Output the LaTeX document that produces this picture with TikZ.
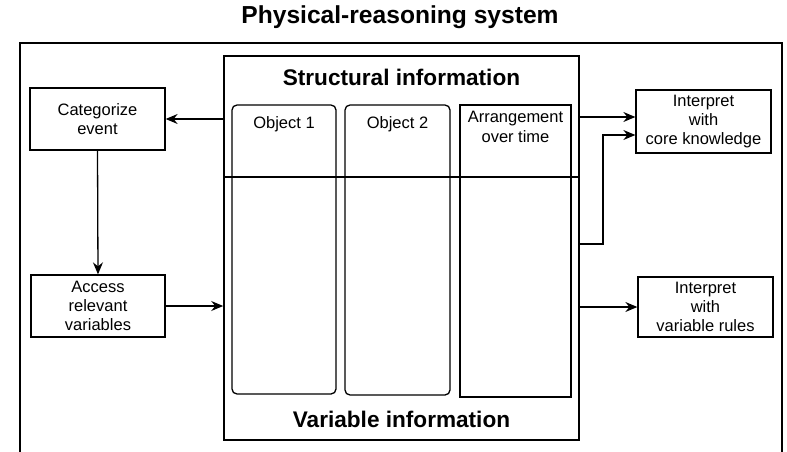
\documentclass[tikz,border=0pt]{standalone}
\usepackage{fontspec}
\setmainfont{Liberation Sans}
\usetikzlibrary{arrows.meta}
\begin{document}
\begin{tikzpicture}[x=1pt,y=-1pt,
  box/.style={draw,line width=1.3pt,inner sep=0pt,align=center,font=\fontsize{16.5}{19}\selectfont},
  col/.style={draw,line width=1.3pt,inner sep=0pt},
  coltext/.style={anchor=north,align=center,inner sep=0pt,font=\fontsize{16.5}{19.5}\selectfont},
  head/.style={font=\bfseries\fontsize{22.6}{26}\selectfont,inner sep=0pt},
  arr/.style={line width=1.3pt,-{Stealth[length=12pt,width=10pt,inset=4pt]}}]
\useasboundingbox (0,0) rectangle (787,452);
% title
\node[font=\bfseries\fontsize{24.6}{28}\selectfont,inner sep=0pt] (title) at (400,17) {Physical-reasoning system};
% outer frame (bottom edge lies outside the picture)
\draw[line width=2.2pt] (20,455) -- (20,43) -- (782,43) -- (782,455);
% central box
\node[draw,line width=1.6pt,minimum width=355pt,minimum height=384pt,inner sep=0pt] (info) at (401.5,248) {};
\node[head] (struct) at (401.5,77) {Structural information};
\node[head] (varinfo) at (401.5,419) {Variable information};
% columns
\node[col,rounded corners=5pt,minimum width=104pt,minimum height=289pt] (obj1) at (284,249.5) {};
\node[col,rounded corners=5pt,minimum width=105pt,minimum height=290pt] (obj2) at (397.5,250) {};
\node[col,minimum width=111pt,minimum height=292pt] (arrg) at (515.5,251) {};
\node[coltext] (t1) at ([yshift=-12pt]obj1.north) {Object 1};
\node[coltext] (t2) at ([yshift=-12pt]obj2.north) {Object 2};
\node[coltext] (t3) at ([yshift=-7pt]arrg.north) {Arrangement\\over time};
% dividing line
\coordinate (divy) at (0,177);
\draw[line width=1.4pt] (info.west |- divy) -- (info.east |- divy);
% side boxes
\node[box,minimum width=135pt,minimum height=62pt] (cat) at (97.5,119) {Categorize\\event};
\node[box,minimum width=134pt,minimum height=62pt] (acc) at (98,306) {Access\\relevant\\variables};
\node[box,minimum width=135pt,minimum height=63pt] (core) at (703.5,121.5) {Interpret\\with\\core knowledge};
\node[box,minimum width=135pt,minimum height=60pt] (var) at (705.5,307) {Interpret\\with\\variable rules};
% connectors
\coordinate (coreA) at ([yshift=4.5pt]core.west);
\coordinate (coreB) at ([yshift=-13.5pt]core.west);
\draw[arr] (info.west |- cat.east) -- (cat.east);
\draw[arr] (cat.south) -- (acc.north);
\draw[arr] (acc.east) -- (acc.east -| info.west);
\draw[arr] (info.east |- coreA) -- (coreA);
\coordinate (bend) at (603,244);
\draw[arr] (info.east |- bend) -- (bend) |- (coreB);
\draw[arr] (info.east |- var.west) -- (var.west);
\end{tikzpicture}
\end{document}
